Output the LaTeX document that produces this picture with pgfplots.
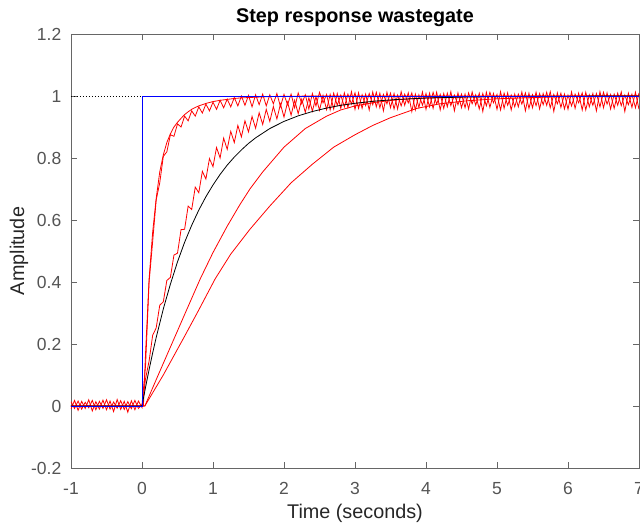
\documentclass[border=0pt]{standalone}
\usepackage{pgfplots}
\usepackage{pgfplotstable}
\pgfplotsset{compat=1.18}
\usepackage{fontspec}
\setmainfont{Liberation Sans}
\definecolor{axgray}{rgb}{0.40,0.40,0.40}
\definecolor{lblgray}{rgb}{0.33,0.33,0.33}
\definecolor{mred}{rgb}{1,0,0}
\definecolor{mblue}{rgb}{0,0,1}

\pgfplotstableread{
t n1 n2
-1.00 0.014 -0.010
-0.95 -0.008 0.018
-0.90 0.016 -0.014
-0.85 -0.010 0.015
-0.80 0.012 -0.008
-0.75 -0.006 0.020
-0.70 0.018 -0.016
-0.65 -0.012 0.014
-0.60 0.015 -0.010
-0.55 -0.008 0.019
-0.50 0.020 -0.012
-0.45 -0.010 0.016
-0.40 0.013 -0.018
-0.35 -0.007 0.021
-0.30 0.017 -0.011
-0.25 -0.011 0.015
-0.20 0.014 -0.020
-0.15 -0.009 0.017
-0.10 0.018 -0.012
-0.05 -0.008 0.016
0.00 0.004 -0.005
0.05 0.13 0.088
0.10 0.40 0.145
0.15 0.53 0.228
0.20 0.665 0.252
0.25 0.72 0.325
0.30 0.805 0.336
0.35 0.82 0.405
0.40 0.875 0.415
0.45 0.87 0.487
0.50 0.91 0.493
0.55 0.90 0.569
0.60 0.935 0.570
0.65 0.92 0.645
0.70 0.952 0.634
0.75 0.935 0.706
0.80 0.965 0.688
0.85 0.945 0.757
0.90 0.974 0.732
0.95 0.952 0.798
1.00 0.98 0.772
1.05 0.957 0.834
1.10 0.986 0.800
1.15 0.962 0.864
1.20 0.99 0.828
1.25 0.965 0.886
1.30 0.995 0.850
1.35 0.968 0.905
1.40 1.0 0.868
1.45 0.97 0.920
1.50 1.002 0.884
1.55 0.965 0.934
1.60 1.004 0.896
1.65 0.972 0.946
1.70 1.006 0.908
1.75 0.968 0.957
1.80 1.004 0.918
1.85 0.975 0.966
1.90 1.008 0.926
1.95 0.966 0.974
2.00 1.005 0.932
2.05 0.972 0.980
2.10 1.006 0.938
2.15 0.962 0.986
2.20 1.010 0.943
2.25 0.975 0.990
2.30 1.004 0.947
2.35 0.958 0.994
2.40 1.008 0.951
2.45 0.968 0.998
2.50 1.012 0.954
2.55 0.978 1.002
2.60 1.005 0.956
2.65 0.955 1.005
2.70 1.009 0.958
2.75 0.970 1.008
2.80 1.003 0.960
2.85 0.965 1.010
2.90 1.006 0.963
2.95 0.974 1.014
3.00 1.010 0.957
3.05 0.960 1.010
3.10 1.004 0.960
3.15 0.969 1.006
3.20 1.008 0.955
3.25 0.972 1.013
3.30 1.012 0.965
3.35 0.962 1.009
3.40 1.005 0.952
3.45 0.975 1.012
3.50 1.009 0.962
3.55 0.958 1.008
3.60 1.003 0.958
3.65 0.968 1.014
3.70 1.006 0.970
3.75 0.978 1.010
3.80 1.010 0.950
3.85 0.955 1.006
3.90 1.004 0.963
3.95 0.970 1.013
4.00 1.008 0.957
4.05 0.965 1.009
4.10 1.012 0.960
4.15 0.974 1.012
4.20 1.005 0.955
4.25 0.960 1.008
4.30 1.009 0.965
4.35 0.969 1.014
4.40 1.003 0.952
4.45 0.972 1.010
4.50 1.006 0.962
4.55 0.962 1.006
4.60 1.010 0.958
4.65 0.975 1.013
4.70 1.004 0.970
4.75 0.958 1.009
4.80 1.008 0.950
4.85 0.968 1.012
4.90 1.012 0.963
4.95 0.978 1.008
5.00 1.005 0.957
5.05 0.955 1.014
5.10 1.009 0.960
5.15 0.970 1.010
5.20 1.003 0.955
5.25 0.965 1.006
5.30 1.006 0.965
5.35 0.974 1.013
5.40 1.010 0.952
5.45 0.960 1.009
5.50 1.004 0.962
5.55 0.969 1.012
5.60 1.008 0.958
5.65 0.972 1.008
5.70 1.012 0.970
5.75 0.962 1.014
5.80 1.005 0.950
5.85 0.975 1.010
5.90 1.009 0.963
5.95 0.958 1.006
6.00 1.003 0.957
6.05 0.968 1.013
6.10 1.006 0.960
6.15 0.978 1.009
6.20 1.010 0.955
6.25 0.955 1.012
6.30 1.004 0.965
6.35 0.970 1.008
6.40 1.008 0.952
6.45 0.965 1.014
6.50 1.012 0.962
6.55 0.974 1.010
6.60 1.005 0.958
6.65 0.960 1.006
6.70 1.009 0.970
6.75 0.969 1.013
6.80 1.003 0.950
6.85 0.972 1.009
6.90 1.006 0.963
6.95 0.962 1.012
7.00 1.010 0.957
}\noisetab

\begin{document}
\begin{tikzpicture}
\useasboundingbox (-71bp,-59bp) rectangle (569bp,468bp);
\clip (-71bp,-59bp) rectangle (569bp,468bp);
\begin{axis}[
  at={(0,0)}, anchor=south west,
  scale only axis, width=568bp, height=434bp,
  xmin=-1, xmax=7, ymin=-0.2, ymax=1.2,
  xtick={-1,0,1,2,3,4,5,6,7},
  xticklabels={-1,0,1,2,3,4,5,6,7},
  ytick={-0.2,0,0.2,0.4,0.6,0.8,1,1.2},
  yticklabels={-0.2,0,0.2,0.4,0.6,0.8,1,1.2},
  tick align=inside, xtick pos=both, ytick pos=both,
  major tick length=5.7bp,
  axis line style={axgray, line width=0.6bp},
  every tick/.style={axgray, line width=0.6bp},
  tick label style={font=\fontsize{17.5bp}{20bp}\selectfont, text=lblgray},
  xticklabel style={anchor=base, yshift=-26bp},
  yticklabel style={anchor=east, inner sep=0pt, xshift=-9.5bp},
  title={Step response wastegate},
  title style={at={(axis description cs:0.5,1.0138)}, anchor=base, font=\bfseries\fontsize{19.8bp}{22bp}\selectfont, text=black},
  xlabel={Time (seconds)},
  xlabel style={at={(axis description cs:0.5,-0.1175)}, anchor=base, font=\fontsize{19.8bp}{22bp}\selectfont, text=black!85},
  ylabel={Amplitude},
  ylabel style={at={(axis description cs:-0.0827,0.5)}, anchor=base, rotate=0, font=\fontsize{19.8bp}{22bp}\selectfont, text=black!85},
  clip=true,
]
% slowest red
\addplot[mred, line width=0.8bp] coordinates {(-1,0)(0.04,0)(0.3,0.10)(0.6,0.225)(0.8,0.31)(1.03,0.41)(1.25,0.49)(1.52,0.57)(1.8,0.645)(2.1,0.72)(2.4,0.78)(2.7,0.835)(3.0,0.875)(3.25,0.905)(3.5,0.93)(3.87,0.96)(4.2,0.975)(4.6,0.985)(5.0,0.991)(5.5,0.995)(6.0,0.998)(6.5,0.999)(7,1)};
% slow red
\addplot[mred, line width=0.8bp] coordinates {(-1,0)(0.04,0)(0.2,0.085)(0.4,0.19)(0.6,0.295)(0.82,0.41)(1.0,0.495)(1.2,0.58)(1.38,0.65)(1.52,0.70)(1.7,0.755)(2.0,0.835)(2.3,0.895)(2.6,0.935)(2.8,0.955)(3.0,0.968)(3.3,0.98)(3.6,0.988)(4.0,0.994)(4.5,0.997)(5.0,0.999)(7,1)};
% fast smooth red
\addplot[mred, line width=0.8bp] coordinates {(-1,0)(0.02,0)(0.05,0.17)(0.1,0.41)(0.15,0.56)(0.2,0.67)(0.25,0.755)(0.3,0.81)(0.35,0.85)(0.4,0.878)(0.45,0.90)(0.5,0.915)(0.55,0.928)(0.6,0.94)(0.65,0.949)(0.7,0.957)(0.75,0.963)(0.8,0.968)(0.9,0.976)(1.0,0.982)(1.1,0.986)(1.2,0.989)(1.3,0.992)(1.4,0.994)(1.6,0.996)(1.8,0.998)(2.0,0.999)(2.5,1)(7,1)};
% noisy reds
\addplot[mred, line width=0.8bp] table[x=t, y=n1] {\noisetab};
\addplot[mred, line width=0.8bp] table[x=t, y=n2] {\noisetab};
% black model
\addplot[black, line width=0.8bp] coordinates {(-1,0)(0,0)(0.05,0.0606)(0.1,0.1175)(0.15,0.171)(0.2,0.221)(0.3,0.313)(0.4,0.393)(0.5,0.465)(0.6,0.528)(0.7,0.583)(0.8,0.632)(0.9,0.675)(1.0,0.713)(1.1,0.747)(1.2,0.777)(1.3,0.803)(1.4,0.826)(1.5,0.847)(1.6,0.865)(1.8,0.895)(2.0,0.918)(2.2,0.936)(2.4,0.950)(2.6,0.961)(2.8,0.970)(3.0,0.9765)(3.3,0.984)(3.6,0.989)(4.0,0.9933)(4.5,0.9964)(5.0,0.998)(5.5,0.999)(6.0,0.9994)(7.0,0.9998)};
% step input
\addplot[mblue, line width=0.9bp] coordinates {(-1,0)(0,0)(0,1)(7,1)};
% steady-state dotted line
\addplot[black, line width=0.6bp, dash pattern=on 0.6bp off 2.4bp] coordinates {(-1,1)(0,1)};
\end{axis}
\end{tikzpicture}
\end{document}
